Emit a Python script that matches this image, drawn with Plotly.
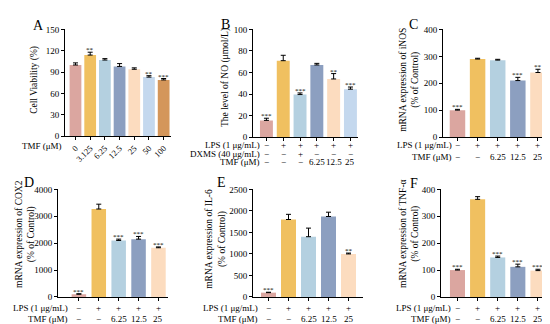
import plotly.graph_objects as go

FONT = "Liberation Serif"
W, H = 550, 324
COLORS = ["#DBA6A0", "#F0C060", "#B4D0E0", "#8C9FC0", "#FCDCBF", "#C4D8EE", "#D4965A"]

# ---------------- data ----------------
a_doses = ["0", "3.125", "6.25", "12.5", "25", "50", "100"]
a_values = [100, 114, 107, 98, 94, 83, 79]
a_errors = [3, 4, 2, 4, 2, 2, 2]
a_stars = ["", "**", "", "", "", "**", "***"]
a_ticks = [0, 30, 60, 90, 120, 150]

b_values = [15.5, 71, 39.5, 67, 54, 44.5]
b_errors = [2, 5, 1.5, 1.5, 5, 2]
b_stars = ["***", "", "***", "", "**", "***"]
b_lps = ["−", "+", "+", "+", "+", "+"]
b_dxms = ["−", "−", "+", "−", "−", "−"]
b_tmf = ["−", "−", "−", "6.25", "12.5", "25"]
b_ticks = [0, 20, 40, 60, 80, 100]

c_values = [100, 290, 286, 210, 240]
c_errors = [3, 3, 3, 12, 12]
c_stars = ["***", "", "", "***", "**"]
c_ticks = [0, 100, 200, 300, 400]

d_values = [100, 3270, 2100, 2150, 1830]
d_errors = [20, 180, 50, 100, 30]
d_stars = ["***", "", "***", "***", "***"]
d_ticks = [0, 1000, 2000, 3000, 4000]

e_values = [100, 1800, 1400, 1870, 1000]
e_errors = [10, 120, 200, 100, 20]
e_stars = ["***", "", "", "", "**"]
e_ticks = [0, 500, 1000, 1500, 2000, 2500]

f_values = [100, 363, 147, 112, 98]
f_errors = [3, 10, 5, 10, 5]
f_stars = ["***", "", "***", "***", "***"]
f_ticks = [0, 100, 200, 300, 400]

lps_row = ["−", "+", "+", "+", "+"]
tmf_row = ["−", "−", "6.25", "12.5", "25"]

# ---------------- figure ----------------
fig = go.Figure()
annotations = []
layout = {}
ROWFONT = 9


def py(p):
    return 1 - p / H


def add_panel(k, values, errors, stars, ticks, width, xdom, ydom, xrange, ytitle, title_xy,
              letter, letter_xy, rows=None, row_label_right=None, xticktext=None):
    xa = "x" if k == 1 else f"x{k}"
    ya = "y" if k == 1 else f"y{k}"
    n = len(values)
    xs = list(range(n))
    fig.add_trace(go.Bar(
        x=xs, y=values, width=width, xaxis=xa, yaxis=ya, showlegend=False,
        marker=dict(color=COLORS[:n], line=dict(width=0)),
        error_y=dict(type="data", array=errors, arrayminus=[0] * n, symmetric=False,
                     thickness=1, width=2.5, color="black"),
        hoverinfo="skip"))
    xkey = "xaxis" if k == 1 else f"xaxis{k}"
    ykey = "yaxis" if k == 1 else f"yaxis{k}"
    xaxis = dict(domain=[xdom[0] / W, xdom[1] / W], range=xrange, anchor=ya,
                 showline=True, linecolor="black", linewidth=1, showgrid=False,
                 zeroline=False, ticks="outside", ticklen=3, tickwidth=1, tickcolor="black",
                 tickvals=xs, fixedrange=True)
    if xticktext is not None:
        xaxis.update(ticktext=xticktext, tickangle=-45, showticklabels=True,
                     tickfont=dict(family=FONT, size=8.5, color="black"))
    else:
        xaxis.update(showticklabels=False)
    layout[xkey] = xaxis
    layout[ykey] = dict(domain=[py(ydom[1]), py(ydom[0])], range=[0, ticks[-1]], anchor=xa,
                        showline=True, linecolor="black", linewidth=1, showgrid=False,
                        zeroline=False, ticks="outside", ticklen=3, tickwidth=1,
                        tickcolor="black", tickvals=ticks,
                        tickfont=dict(family=FONT, size=9, color="black"), fixedrange=True)
    # stars
    for i, s in enumerate(stars):
        if s:
            annotations.append(dict(x=i, y=values[i] + errors[i], xref=xa, yref=ya, text=s,
                                    showarrow=False, yanchor="bottom", yshift=-4,
                                    font=dict(family=FONT, size=7, color="black")))
    # y title
    annotations.append(dict(x=title_xy[0] / W, y=py(title_xy[1]), xref="paper", yref="paper",
                            text=ytitle, textangle=-90, showarrow=False,
                            xanchor="center", yanchor="middle",
                            font=dict(family=FONT, size=9.5, color="black")))
    # letter
    annotations.append(dict(x=letter_xy[0] / W, y=py(letter_xy[1]), xref="paper", yref="paper",
                            text=letter, showarrow=False, xanchor="center", yanchor="middle",
                            font=dict(family=FONT, size=14, color="black")))
    # condition rows
    if rows:
        for label, items, ypx in rows:
            annotations.append(dict(x=row_label_right / W, y=py(ypx), xref="paper", yref="paper",
                                    text=label, showarrow=False, xanchor="right",
                                    yanchor="middle", borderpad=0,
                                    font=dict(family=FONT, size=ROWFONT, color="black")))
            for i, t in enumerate(items):
                annotations.append(dict(x=i, y=py(ypx), xref=xa, yref="paper", text=t,
                                        showarrow=False, xanchor="center", yanchor="middle",
                                        borderpad=0,
                                        font=dict(family=FONT, size=ROWFONT, color="black")))


add_panel(1, a_values, a_errors, a_stars, a_ticks, 0.8, (57, 163), (17, 127), [-0.714, 6.5],
          "Cell Viability (%)", (27, 69), "A", (30, 13), xticktext=a_doses)
annotations.append(dict(x=55 / W, y=py(137), xref="paper", yref="paper", text="TMF (μM)",
                        showarrow=False, xanchor="right", yanchor="middle", borderpad=0,
                        font=dict(family=FONT, size=ROWFONT, color="black")))

add_panel(2, b_values, b_errors, b_stars, b_ticks, 0.77, (245, 350), (17, 128), [-0.8, 5.45],
          "The level of NO (μmol/L)", (218, 67), "B", (217, 12),
          rows=[("LPS (1 μg/mL)", b_lps, 136.5), ("DXMS (40 μg/mL)", b_dxms, 145),
                ("TMF (μM)", b_tmf, 153.5)], row_label_right=253)

add_panel(3, c_values, c_errors, c_stars, c_ticks, 0.77, (435, 540), (17, 128), [-0.72, 4.5],
          "mRNA expression of iNOS<br>(% of Control)", (402, 69), "C", (405, 12),
          rows=[("LPS (1 μg/mL)", lps_row, 136.5), ("TMF (μM)", tmf_row, 149)],
          row_label_right=445)

add_panel(4, d_values, d_errors, d_stars, d_ticks, 0.73, (50, 160), (182, 293), [-1.05, 4.48],
          "mRNA expression of COX2<br>(% of Control)", (18, 228), "D", (21, 175),
          rows=[("LPS (1 μg/mL)", lps_row, 304), ("TMF (μM)", tmf_row, 315.5)],
          row_label_right=61)

add_panel(5, e_values, e_errors, e_stars, e_ticks, 0.75, (245, 355), (182, 293), [-0.775, 4.725],
          "mRNA expression of IL-6<br>(% of Control)", (208, 233), "E", (213, 175),
          rows=[("LPS (1 μg/mL)", lps_row, 304), ("TMF (μM)", tmf_row, 315.5)],
          row_label_right=251)

add_panel(6, f_values, f_errors, f_stars, f_ticks, 0.75, (433, 540), (182, 293), [-0.82, 4.5],
          "mRNA expression of TNF-α<br>(% of Control)", (402, 228), "F", (406, 176),
          rows=[("LPS (1 μg/mL)", lps_row, 304), ("TMF (μM)", tmf_row, 315.5)],
          row_label_right=444)

fig.update_layout(
    width=W, height=H, margin=dict(l=0, r=0, t=0, b=0),
    paper_bgcolor="white", plot_bgcolor="white", barmode="overlay",
    font=dict(family=FONT, color="black"),
    annotations=annotations, showlegend=False, **layout)

fig.write_html("out.html", config={"displayModeBar": False})
